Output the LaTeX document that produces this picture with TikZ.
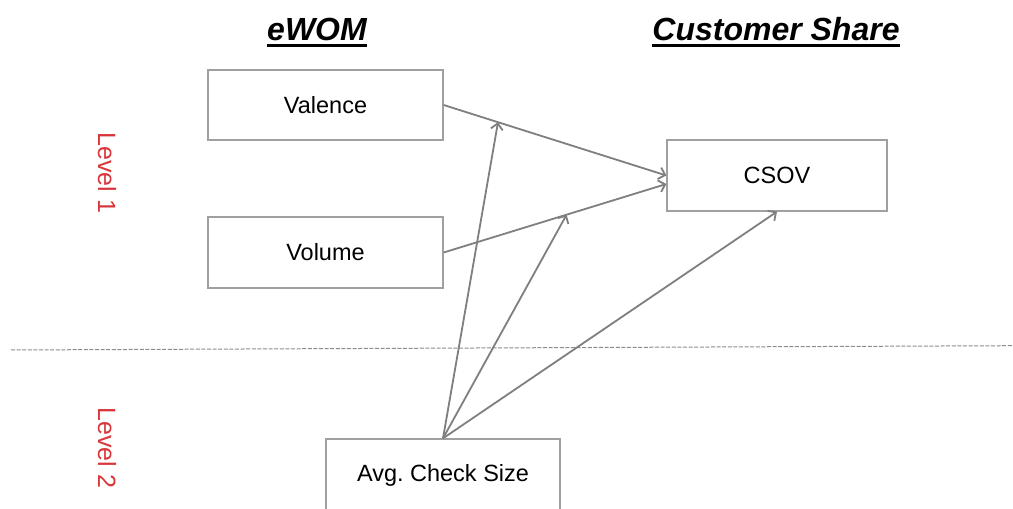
\documentclass[tikz,border=0pt]{standalone}
\usepackage{fontspec}
\setmainfont{Liberation Sans}
\usetikzlibrary{arrows.meta}
\definecolor{boxgray}{HTML}{A0A0A0}
\definecolor{arrgray}{HTML}{7F7F7F}
\definecolor{lvlred}{HTML}{D8363A}
\frenchspacing
\tikzset{
  x=1pt, y=1pt,
  boxnode/.style={draw=boxgray, line width=1.3pt, fill=white, inner sep=0pt, font=\fontsize{23.5}{28}\selectfont},
  titlenode/.style={font=\fontsize{32}{36}\selectfont\bfseries\itshape, inner sep=0pt},
  uline/.style={draw=black, line width=2.6pt},
  levelnode/.style={font=\fontsize{25}{28}\selectfont, text=lvlred, rotate=-90, inner sep=0pt},
  arr/.style={draw=arrgray, line width=1.8pt, -{Straight Barb[length=6pt,width=12pt,line width=1.8pt]}},
  sepline/.style={draw=arrgray!90, line width=1pt, dash pattern=on 4pt off 1.6pt}
}
\begin{document}
\begin{tikzpicture}
\clip (0,0) rectangle (1013,509);
\fill[white] (0,0) rectangle (1013,509);

% titles
\node[titlenode, anchor=base] (t1) at (317,468.5) {eWOM};
\node[titlenode, anchor=base] (t2) at (776,468.5) {Customer Share};
\draw[uline] ([yshift=-5pt]t1.base west) -- ([yshift=-5pt]t1.base east);
\draw[uline] ([yshift=-5pt]t2.base west) -- ([yshift=-5pt]t2.base east);

% levels
\node[levelnode] (l1) at (107,336) {Level 1};
\node[levelnode] (l2) at (107,61) {Level 2};

% separator
\coordinate (s1) at (11,159);
\coordinate (s2) at (1012,163.3);
\draw[sepline] (s1) -- (s2);

% boxes
\node[boxnode, minimum width=235pt, minimum height=70pt] (val) at (325.5,404) {Valence};
\node[boxnode, minimum width=235pt, minimum height=71pt] (vol) at (325.5,256.5) {Volume};
\node[boxnode, minimum width=220pt, minimum height=71pt] (csov) at (777,333.5) {CSOV};
\node[boxnode, minimum width=234pt, minimum height=72pt] (avg) at (443,34) {Avg. Check Size};

% main arrows
\draw[arr] (val.east) -- coordinate[pos=0.244] (m1) (csov.west);
\draw[arr] (vol.east) -- coordinate[pos=0.552] (m2) ([yshift=-8.5pt]csov.west);

% moderating arrows
\draw[arr] (avg.north) -- (m1);
\draw[arr] (avg.north) -- (m2);
\draw[arr] (avg.north) -- (csov.south);
\end{tikzpicture}
\end{document}
